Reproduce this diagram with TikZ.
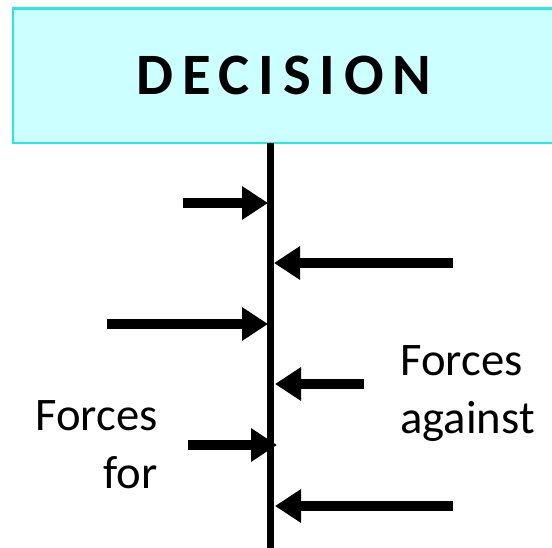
\documentclass[tikz,border=0pt]{standalone}
\usepackage{fontspec}
\setmainfont{Carlito}
\newfontfamily\headfont[LetterSpace=15]{Carlito}
\usetikzlibrary{arrows.meta}
\definecolor{boxfill}{RGB}{204,255,255}
\definecolor{boxline}{RGB}{45,230,225}

\tikzset{
  force/.style={line width=7.5pt,-{Triangle[length=19.5pt,width=24pt]}},
  label/.style={inner sep=0pt,font=\fontsize{35}{44}\selectfont}
}

\begin{document}
\begin{tikzpicture}[x=0.75pt,y=0.75pt,yscale=-1,xscale=1]
\useasboundingbox (0,0) rectangle (552,548);
% decision box
\draw[boxline,fill=boxfill,line width=2pt] (13,8.5) rectangle (560,143);
\node (dec) at (284,75.5) {\headfont\bfseries\fontsize{44}{44}\selectfont DECISION};
% the decision line
\coordinate (top) at (270.5,143);
\coordinate (bot) at (270.5,548);
\draw[line width=5.25pt] (top) -- (bot);
% forces for
\coordinate (f1) at (183,203);  \coordinate (f1t) at (268,203);
\coordinate (f2) at (107,324);  \coordinate (f2t) at (268,324);
\coordinate (f3) at (188,445);  \coordinate (f3t) at (277,445);
% forces against
\coordinate (a1) at (453,263);  \coordinate (a1t) at (274,263);
\coordinate (a2) at (364,384);  \coordinate (a2t) at (275,384);
\coordinate (a3) at (453,506);  \coordinate (a3t) at (275,506);
\foreach \s/\t in {f1/f1t,f2/f2t,f3/f3t,a1/a1t,a2/a2t,a3/a3t}
  \draw[force] (\s) -- (\t);
% labels
\node[label,align=right,anchor=north east] (forlbl) at (158,400) {Forces\\for};
\node[label,align=left,anchor=north west] (aglbl) at (400,345) {Forces\\against};
\end{tikzpicture}
\end{document}
